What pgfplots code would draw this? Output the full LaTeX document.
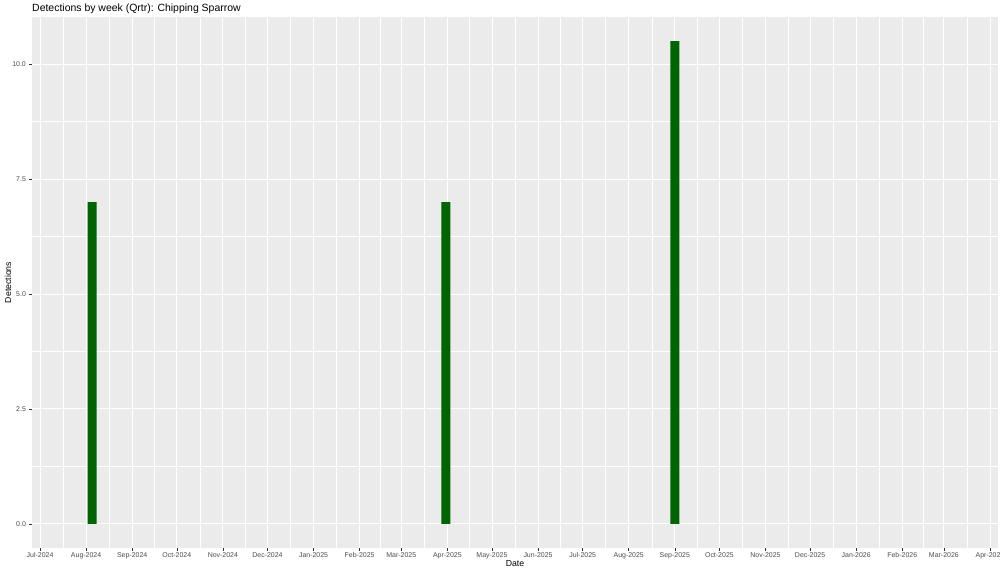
\documentclass[border=0pt]{standalone}
\usepackage{fontspec}
\setmainfont{Liberation Sans}
\usepackage{pgfplots}
\pgfplotsset{compat=1.18}
\definecolor{panel}{HTML}{EBEBEB}
\definecolor{tickl}{HTML}{4D4D4D}
\definecolor{tickc}{HTML}{333333}
\definecolor{bargreen}{HTML}{006400}
\begin{document}
\begin{tikzpicture}
\path[use as bounding box] (-32bp,-25bp) rectangle (968bp,548bp);
\begin{axis}[
  at={(0,0)}, anchor=south west,
  scale only axis, width=966bp, height=531bp,
  clip mode=individual,
  xmin=-5.4, xmax=644.4, ymin=-0.525, ymax=11.025,
  axis background/.style={fill=panel},
  axis line style={draw=none},
  xtick={0,31,62,92,123,153,184,215,243,274,304,335,365,396,427,457,488,518,549,580,608,639},
  xticklabels={Jul-2024,Aug-2024,Sep-2024,Oct-2024,Nov-2024,Dec-2024,Jan-2025,Feb-2025,Mar-2025,Apr-2025,May-2025,Jun-2025,Jul-2025,Aug-2025,Sep-2025,Oct-2025,Nov-2025,Dec-2025,Jan-2026,Feb-2026,Mar-2026,Apr-2026},
  minor xtick={15.5,46.5,77,107.5,138,168.5,199.5,229,258.5,289,319.5,350,380.5,411.5,442,472.5,503,533.5,564.5,594,623.5},
  ytick={0,2.5,5,7.5,10},
  minor ytick={1.25,3.75,6.25,8.75},
  xtick pos=bottom, ytick pos=left,
  tick align=outside,
  major tick length=2.6bp, minor tick length=0pt,
  tick style={draw=tickc, line width=0.5bp},
  grid=both,
  major grid style={draw=white, line width=0.9bp},
  minor grid style={draw=white, line width=0.45bp},
  /pgf/number format/assume math mode=true,
  yticklabel style={/pgf/number format/.cd, fixed, fixed zerofill, precision=1},
  tick label style={font=\fontsize{7}{8}\selectfont, text=tickl},
  xticklabel style={text height=5.2bp, text depth=1.4bp, inner sep=1.5bp},
  xlabel={Date}, ylabel={Detections},
  xlabel style={at={(0.5,0)}, anchor=base, yshift=-18bp, font=\fontsize{8.75}{10}\selectfont, inner sep=0pt},
  ylabel style={at={(0,0.5)}, anchor=center, yshift=24bp, font=\fontsize{8.75}{10}\selectfont, inner sep=0pt},
]
\addplot[ybar, bar width=6, bar shift=0pt, fill=bargreen, draw=none] coordinates {(35,7) (273,7) (427,10.5)};
\node[anchor=base west, inner sep=0pt, font=\fontsize{10.5}{12}\selectfont] at (rel axis cs:0,1) [yshift=5bp] {Detections by week (Qrtr): Chipping Sparrow};
\end{axis}
\end{tikzpicture}
\end{document}
